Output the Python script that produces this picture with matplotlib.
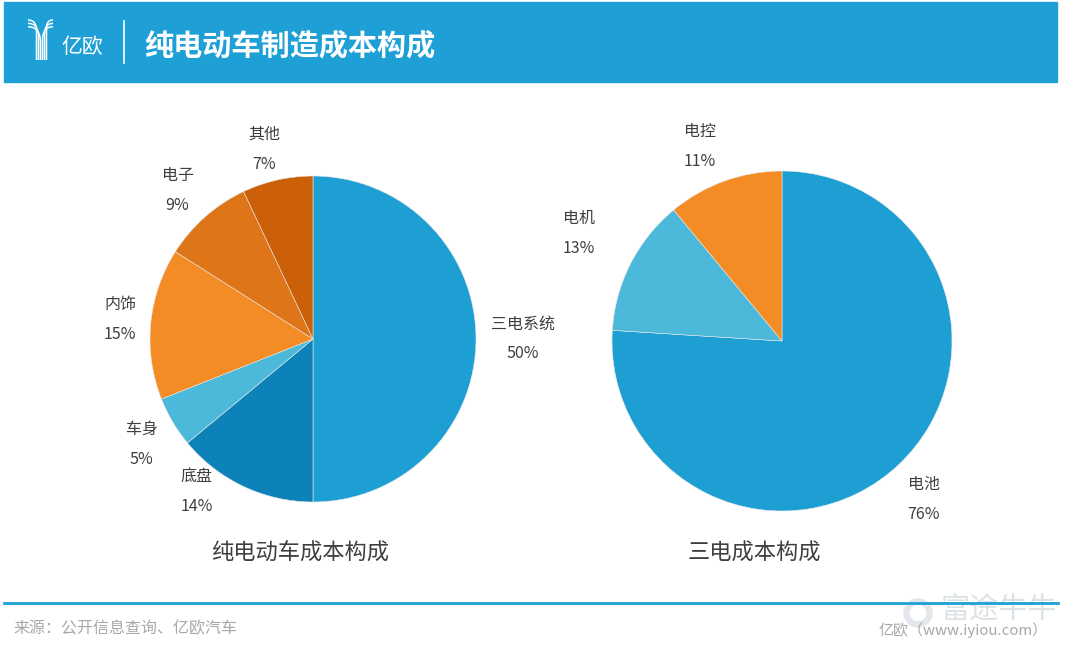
#!/usr/bin/env python3
"""纯电动车制造成本构成 — two pie charts with a branded header and footer."""
import matplotlib
matplotlib.use("Agg")
import matplotlib.pyplot as plt
import numpy as np
from matplotlib.patches import Rectangle, Wedge

plt.rcParams["font.family"] = ["Noto Sans CJK SC", "DejaVu Sans"]

W, H = 1080, 655

# left pie: 纯电动车成本构成
ev_parts = ["三电系统", "底盘", "车身", "内饰", "电子", "其他"]
ev_share = [50, 14, 5, 15, 9, 7]
ev_colors = ["#1e9fd4", "#0d82b8", "#4cb8da", "#f48c25", "#de7519", "#cc6009"]

# right pie: 三电成本构成
tri_parts = ["电池", "电机", "电控"]
tri_share = [76, 13, 11]
tri_colors = ["#1e9fd4", "#4cb8da", "#f48c25"]

# label placement: (distance in radii, angle nudge in degrees) per slice
ev_label_pos = [(1.09, 0), (1.12, -8), (1.15, 3.5), (1.09, -0.8), (1.17, -2.6), (1.18, -2.7)]
tri_label_pos = [(1.19, -4.8), (1.27, -3), (1.21, -1.1)]

BLUE = "#1ea0d6"
TEXT = "#3f3f3f"


def Y(y):
    # pixel row (top origin) -> data y (bottom origin)
    return H - y


def draw_pie(ax, values, names, colors, cx, cy, r, label_pos):
    wedges, _ = ax.pie(values, colors=colors, startangle=90, counterclock=False,
                       center=(cx, Y(cy)), radius=r,
                       wedgeprops=dict(linewidth=0.4, edgecolor="#e8e8e8"))
    for w, name, v, (dist, nudge) in zip(wedges, names, values, label_pos):
        ang = np.deg2rad((w.theta1 + w.theta2) / 2 + nudge)
        x = cx + np.cos(ang) * r * dist
        y = Y(cy) + np.sin(ang) * r * dist
        ha = "left" if np.cos(ang) > 0 else "right"
        ax.text(x, y, f"{name}\n{v}%", ha=ha, va="center",
                multialignment="center", linespacing=2.0,
                fontsize=11.5, color=TEXT)


def draw_logo(ax):
    t = np.linspace(0, 1, 30)
    for k in range(3):
        # left strands sweep in from the top-left, right strands from the top-right
        for x0, xs in ((28, 36.5 + 2 * k), (53, 46.5 - 2 * k)):
            y0 = 20 + 3.4 * k
            y2 = y0 + abs(xs - x0) * 1.3
            bx = (1 - t) ** 2 * x0 + 2 * (1 - t) * t * xs + t ** 2 * xs
            by = (1 - t) ** 2 * y0 + 2 * (1 - t) * t * y0 + t ** 2 * y2
            bx = np.append(bx, xs)
            by = np.append(by, 60)
            ax.plot(bx, Y(by), color="white", lw=1.1, solid_capstyle="butt")


def main():
    fig = plt.figure(figsize=(W / 100, H / 100), dpi=100)
    fig.patch.set_facecolor("white")
    ax = fig.add_axes([0, 0, 1, 1])

    # header band
    ax.add_patch(Rectangle((4, Y(82)), 1053, 80, color=BLUE, zorder=0))
    draw_logo(ax)
    ax.text(61, Y(47), "亿欧", color="white", fontsize=15, va="center", ha="left")
    ax.plot([124, 124], [Y(21), Y(63)], color="white", lw=1.2)
    ax.text(144, Y(45), "纯电动车制造成本构成", color="white", fontsize=21,
            fontweight="bold", va="center", ha="left")

    draw_pie(ax, ev_share, ev_parts, ev_colors, 313, 339, 163, ev_label_pos)
    draw_pie(ax, tri_share, tri_parts, tri_colors, 782, 341, 170, tri_label_pos)

    ax.text(300, Y(553), "纯电动车成本构成", fontsize=16, color=TEXT,
            ha="center", va="center")
    ax.text(754, Y(553), "三电成本构成", fontsize=16, color=TEXT,
            ha="center", va="center")

    # watermark (behind footer)
    ax.add_patch(Wedge((918, Y(613)), 14, 0, 360, width=5, color="#e3e7eb", zorder=0))
    ax.text(1057, Y(611), "富途牛牛", fontsize=21, color="#dde2e6",
            ha="right", va="center", zorder=0)

    # footer
    ax.plot([4, 1058], [Y(603), Y(603)], color=BLUE, lw=2)
    ax.text(13, Y(629), "来源：公开信息查询、亿欧汽车", fontsize=11.5,
            color="#a8a8a8", ha="left", va="center")
    ax.text(1048, Y(630), "亿欧（www.iyiou.com）", fontsize=10.8,
            color="#a8a8a8", ha="right", va="center")

    ax.set_xlim(0, W)
    ax.set_ylim(0, H)
    ax.set_aspect("auto")
    ax.axis("off")

    fig.savefig("out.png", dpi=100, facecolor="white")


if __name__ == "__main__":
    main()
